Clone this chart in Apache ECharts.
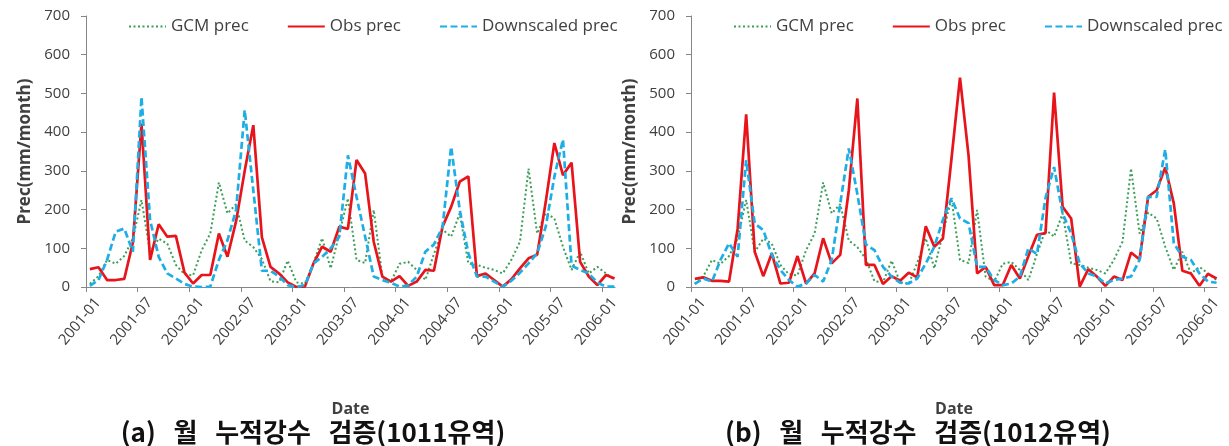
<!DOCTYPE html>
<html>
<head>
<meta charset="utf-8">
<script src="https://cdn.jsdelivr.net/npm/echarts@6/dist/echarts.min.js"></script>
<style>html,body{margin:0;padding:0;background:#fff;}#c{width:1229px;height:446px;}</style>
</head>
<body>
<div id="c"></div>
<script>
// Month index 0 = 2001-01 ... 61 = 2006-02
const tickLabels = ['2001-01','2001-07','2002-01','2002-07','2003-01','2003-07','2004-01','2004-07','2005-01','2005-07','2006-01'];
const tickMonths = [0,6,12,18,24,30,36,42,48,54,60];
const seriesNames = ['GCM prec','Obs prec','Downscaled prec'];
const captions = ['(a)   월   누적강수   검증(1011유역)', '(b)   월   누적강수   검증(1012유역)'];

// GCM precipitation (same in both panels)
const gcmPrec = [8,28,70,60,80,125,225,90,125,112,57,33,30,95,138,270,190,214,120,103,72,15,12,68,12,8,62,126,48,138,229,70,62,199,27,14,60,65,44,18,85,148,130,190,61,57,50,44,35,70,117,306,138,192,177,104,44,91,35,52,35,18];

// Panel (a) 1011
const obsPrecA = [46,51,18,18,21,115,422,70,162,130,132,37,9,31,31,138,78,170,300,418,128,52,35,12,0,1,61,104,91,156,150,328,293,117,27,14,28,3,14,44,42,156,207,272,286,28,35,18,1,20,48,74,83,220,372,289,321,65,27,5,31,22];
const dsPrecA = [3,18,70,143,151,91,491,173,78,35,22,8,1,0,1,70,121,199,457,250,42,42,27,5,0,5,61,78,100,130,340,233,130,27,18,11,1,4,27,91,110,155,362,199,87,27,27,14,1,16,37,61,87,156,285,381,55,44,35,11,1,1];

// Panel (b) 1012
const obsPrecB = [21,25,16,16,14,150,446,91,28,87,9,11,80,9,35,126,61,83,250,487,57,57,8,28,16,37,25,157,104,125,330,541,340,35,52,5,5,57,22,80,135,139,502,207,177,1,46,27,3,27,18,89,71,233,250,309,216,42,35,3,34,22];
const dsPrecB = [8,22,14,70,113,78,328,164,147,83,44,18,1,9,31,14,70,216,358,240,110,95,52,27,11,9,22,61,104,173,229,177,165,52,52,18,5,9,27,100,85,230,310,190,138,61,35,27,9,18,22,27,70,233,233,355,113,78,70,35,14,11];

const colors = ['#3c9e5a', '#e8141b', '#1eaee6'];
const lineStyles = [
  {color: colors[0], width: 2, type: [2, 2.5]},
  {color: colors[1], width: 2.7, type: 'solid'},
  {color: colors[2], width: 2.7, type: [7, 3.5]}
];
const AXIS = '#868686';
const TXT = '#404040';
const FONT = 'Open Sans';
const X_SPAN = 61.5;      // axis range in months
const LABEL_SHIFT = 1.4;  // label axis offset (months) so labels sit right of ticks like the original

function toPts(arr) { return arr.map((v, i) => [i + 0.45, v]); }

const panels = [
  {left: 86, right: 1229 - 615, data: [gcmPrec, obsPrecA, dsPrecA], cx: 313},
  {left: 691, right: 1229 - 1217, data: [gcmPrec, obsPrecB, dsPrecB], cx: 918}
];

const grid = [], xAxis = [], yAxis = [], series = [], legend = [], graphic = [];
panels.forEach((p, k) => {
  grid.push({left: p.left, right: p.right, top: 16, bottom: 446 - 287});
  // main axis: line, ticks, name
  xAxis.push({
    type: 'value', gridIndex: k, min: 0, max: X_SPAN, position: 'bottom',
    axisLine: {show: true, lineStyle: {color: AXIS, width: 1}},
    axisTick: {show: true, inside: false, length: 5, lineStyle: {color: AXIS}, customValues: tickMonths},
    axisLabel: {show: false},
    splitLine: {show: false},
    name: 'Date', nameLocation: 'middle', nameGap: 114,
    nameTextStyle: {fontSize: 16, fontWeight: 'bold', color: TXT, fontFamily: FONT}
  });
  // label axis: tick labels only
  xAxis.push({
    type: 'value', gridIndex: k, min: -LABEL_SHIFT, max: X_SPAN - LABEL_SHIFT, position: 'bottom',
    axisLine: {show: false}, axisTick: {show: false}, splitLine: {show: false},
    axisLabel: {rotate: 50, fontSize: 15, color: TXT, fontFamily: FONT, margin: 13,
      customValues: tickMonths,
      formatter: v => tickLabels[tickMonths.indexOf(Math.round(v))] || ''}
  });
  yAxis.push({
    type: 'value', gridIndex: k, min: 0, max: 700, interval: 100,
    axisLine: {show: true, lineStyle: {color: AXIS, width: 1}},
    axisTick: {show: true, inside: false, length: 5, lineStyle: {color: AXIS}},
    axisLabel: {fontSize: 15, color: TXT, fontFamily: FONT, margin: 16},
    splitLine: {show: false},
    name: 'Prec(mm/month)', nameLocation: 'middle', nameGap: 52, nameRotate: 90,
    nameTextStyle: {fontSize: 17, fontWeight: 'bold', color: TXT, fontFamily: FONT}
  });
  p.data.forEach((arr, j) => {
    series.push({
      name: seriesNames[j], type: 'line', xAxisIndex: 2 * k, yAxisIndex: k,
      data: toPts(arr), showSymbol: false, symbol: 'none',
      lineStyle: lineStyles[j], itemStyle: {color: colors[j]},
      animation: false, z: 2 + j
    });
  });
  legend.push({
    data: seriesNames.slice(),
    left: p.left + 42, top: 18, width: 600, orient: 'horizontal', padding: 0,
    itemWidth: 37, itemHeight: 14, itemGap: 38,
    itemStyle: {opacity: 0, borderWidth: 0},
    textStyle: {fontSize: 17, color: TXT, fontFamily: FONT},
    selectedMode: false
  });
  graphic.push({
    type: 'text', x: p.cx, y: 432,
    style: {text: captions[k], textAlign: 'center', textVerticalAlign: 'middle',
      fontSize: 26, fontWeight: 'bold', fill: '#111', fontFamily: 'Noto Sans CJK KR'}
  });
});

const chart = echarts.init(document.getElementById('c'), null, {renderer: 'canvas'});
chart.setOption({animation: false, grid, xAxis, yAxis, series, legend, graphic});
</script>
</body>
</html>
